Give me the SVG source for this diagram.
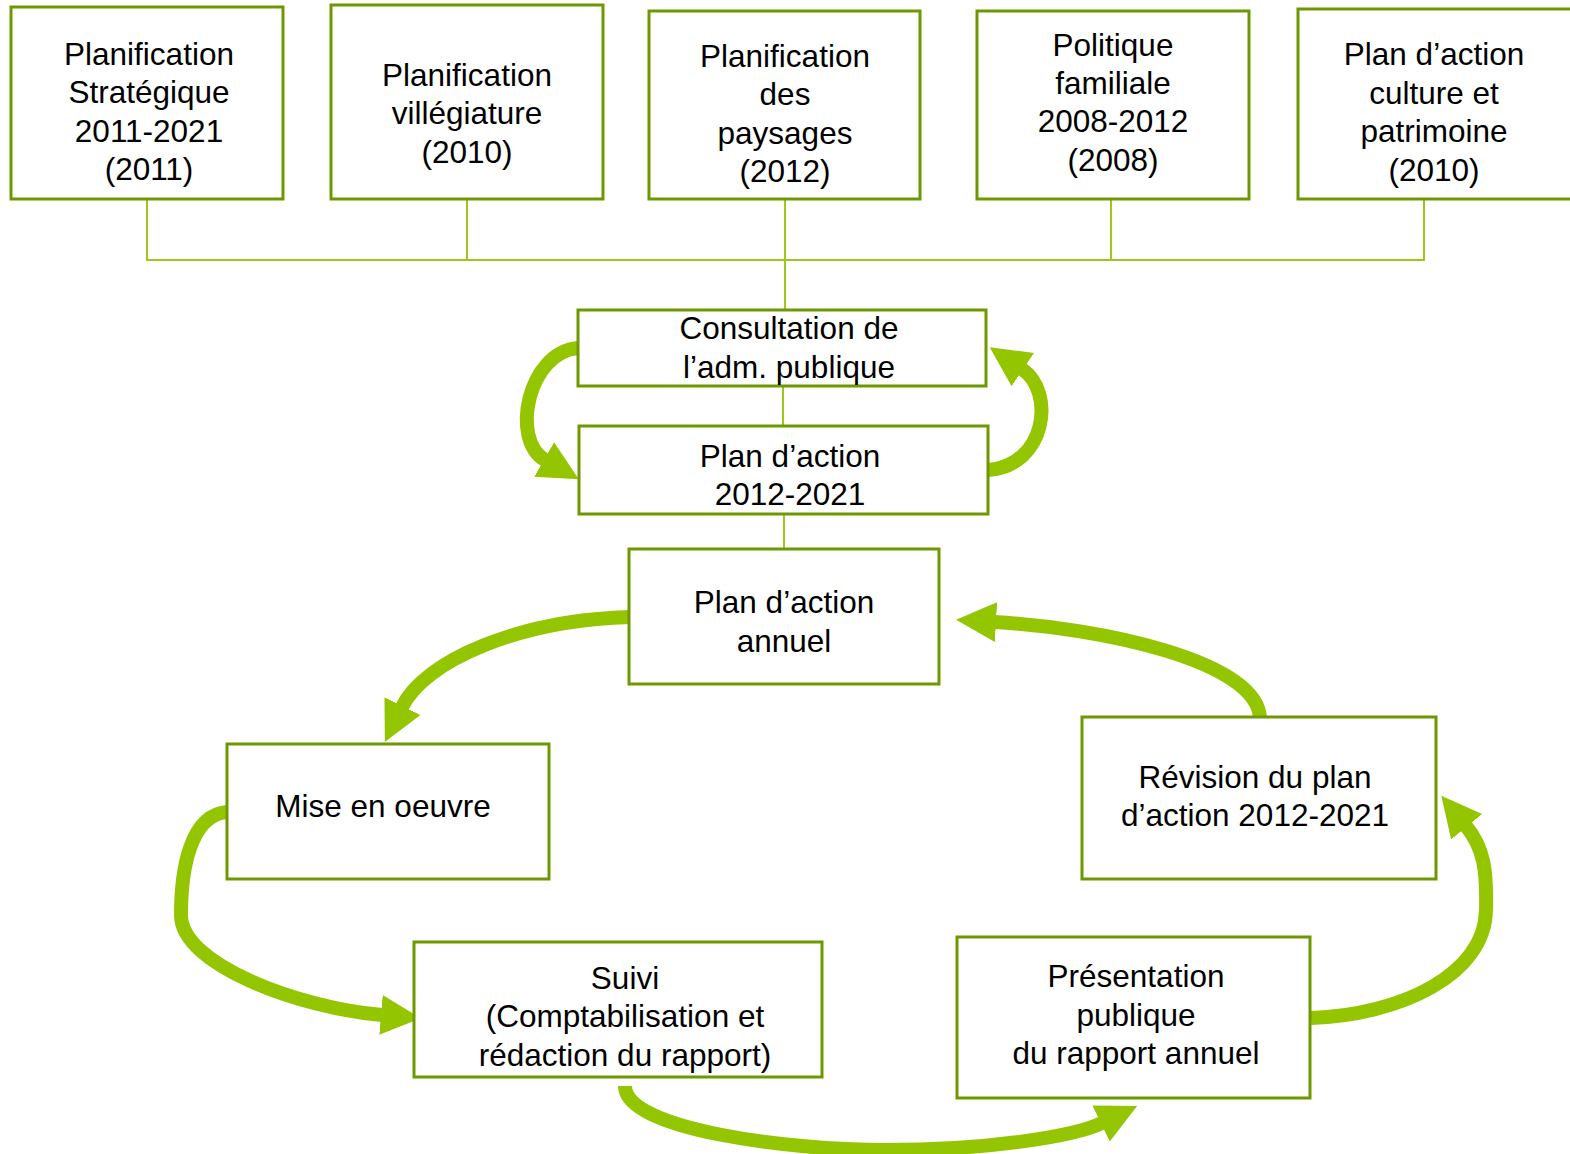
<svg xmlns="http://www.w3.org/2000/svg" width="1570" height="1154" viewBox="0 0 1570 1154">
<style>
.box{fill:#ffffff;stroke:#6E9800;stroke-width:3}
.t{font-family:"Liberation Sans",Arial,sans-serif;font-size:31.5px;fill:#000;text-anchor:middle}
.thin{fill:none;stroke:#9DC61E;stroke-width:2}
.arr{fill:none;stroke:#93C600;stroke-width:14}
</style>
<defs>
<marker id="ah" markerUnits="userSpaceOnUse" markerWidth="42" markerHeight="42" refX="1" refY="20" orient="auto" viewBox="0 0 42 40">
<path d="M0,0 L40,20 L0,40 z" fill="#93C600"/>
</marker>
</defs>
<rect width="1570" height="1154" fill="#ffffff"/>
<g id="connectors">
<path class="thin" d="M147,199 V260 H1424 V199 M467,199 V260 M785,199 V310 M1111,199 V260 M783,386 V426 M784,514 V549"/>
<path class="arr" marker-end="url(#ah)" d="M578,348 C528,352 510,440 545,460"/>
<path class="arr" marker-end="url(#ah)" d="M988,470 C1046,466 1056,392 1022,369"/>
<path class="arr" marker-end="url(#ah)" d="M630,617 C520,620 425,660 402,707"/>
<path class="arr" marker-end="url(#ah)" d="M1260,717 C1255,660 1100,628 995,622"/>
<path class="arr" marker-end="url(#ah)" d="M227,812 C190,815 181,870 181,915 C181,965 300,1008 382,1015"/>
<path class="arr" marker-end="url(#ah)" d="M625,1086 C625,1130 790,1150 886,1150 C990,1150 1075,1136 1102,1123"/>
<path class="arr" marker-end="url(#ah)" d="M1311,1018 C1400,1015 1485,975 1486,910 C1487,870 1484,848 1466,826"/>
</g>
<g id="n1"><rect class="box" x="11" y="7" width="272" height="192"/>
<text class="t" x="149" y="65">Planification</text><text class="t" x="149" y="103">Stratégique</text><text class="t" x="149" y="142">2011-2021</text><text class="t" x="149" y="180">(2011)</text></g>
<g id="n2"><rect class="box" x="331" y="5" width="272" height="194"/>
<text class="t" x="467" y="86">Planification</text><text class="t" x="467" y="124">villégiature</text><text class="t" x="467" y="163">(2010)</text></g>
<g id="n3"><rect class="box" x="649" y="11" width="271" height="188"/>
<text class="t" x="785" y="67">Planification</text><text class="t" x="785" y="105">des</text><text class="t" x="785" y="144">paysages</text><text class="t" x="785" y="182">(2012)</text></g>
<g id="n4"><rect class="box" x="977" y="11" width="272" height="188"/>
<text class="t" x="1113" y="56">Politique</text><text class="t" x="1113" y="94">familiale</text><text class="t" x="1113" y="132">2008-2012</text><text class="t" x="1113" y="171">(2008)</text></g>
<g id="n5"><rect class="box" x="1298" y="9" width="274" height="190"/>
<text class="t" x="1434" y="65">Plan d’action</text><text class="t" x="1434" y="104">culture et</text><text class="t" x="1434" y="142">patrimoine</text><text class="t" x="1434" y="181">(2010)</text></g>
<g id="n6"><rect class="box" x="578" y="310" width="408" height="76"/>
<text class="t" x="789" y="339">Consultation de</text><text class="t" x="789" y="378">l’adm. publique</text></g>
<g id="n7"><rect class="box" x="579" y="426" width="409" height="88"/>
<text class="t" x="790" y="467">Plan d’action</text><text class="t" x="790" y="505">2012-2021</text></g>
<g id="n8"><rect class="box" x="629" y="549" width="310" height="135"/>
<text class="t" x="784" y="613">Plan d’action</text><text class="t" x="784" y="652">annuel</text></g>
<g id="n9"><rect class="box" x="227" y="744" width="322" height="135"/>
<text class="t" x="383" y="817">Mise en oeuvre</text></g>
<g id="n10"><rect class="box" x="1082" y="717" width="354" height="162"/>
<text class="t" x="1255" y="788">Révision du plan</text><text class="t" x="1255" y="826">d’action 2012-2021</text></g>
<g id="n11"><rect class="box" x="414" y="942" width="408" height="135"/>
<text class="t" x="625" y="989">Suivi</text><text class="t" x="625" y="1027">(Comptabilisation et</text><text class="t" x="625" y="1066">rédaction du rapport)</text></g>
<g id="n12"><rect class="box" x="957" y="937" width="353" height="161"/>
<text class="t" x="1136" y="987">Présentation</text><text class="t" x="1136" y="1026">publique</text><text class="t" x="1136" y="1064">du rapport annuel</text></g>
</svg>
